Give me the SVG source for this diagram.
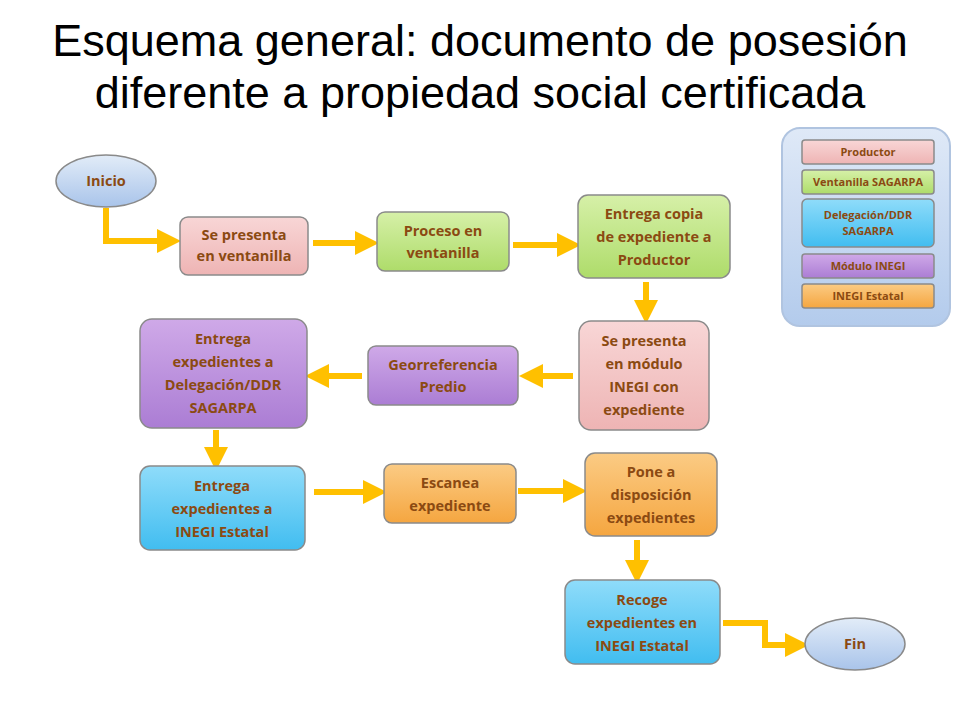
<svg xmlns="http://www.w3.org/2000/svg" width="960" height="720" viewBox="0 0 960 720">
<defs>
<linearGradient id="gp" x1="0" y1="0" x2="0" y2="1"><stop offset="0" stop-color="#f8d6d6"/><stop offset="1" stop-color="#eeb4b4"/></linearGradient>
<linearGradient id="gg" x1="0" y1="0" x2="0" y2="1"><stop offset="0" stop-color="#d6f0a8"/><stop offset="1" stop-color="#aedc6a"/></linearGradient>
<linearGradient id="gb" x1="0" y1="0" x2="0" y2="1"><stop offset="0" stop-color="#8fdcfa"/><stop offset="1" stop-color="#41bdf0"/></linearGradient>
<linearGradient id="gv" x1="0" y1="0" x2="0" y2="1"><stop offset="0" stop-color="#cfa9e8"/><stop offset="1" stop-color="#ab7dd4"/></linearGradient>
<linearGradient id="go" x1="0" y1="0" x2="0" y2="1"><stop offset="0" stop-color="#fbcb84"/><stop offset="1" stop-color="#f5a640"/></linearGradient>
<linearGradient id="ge" x1="0" y1="0" x2="0" y2="1"><stop offset="0" stop-color="#e2ecf8"/><stop offset="1" stop-color="#a9c4ea"/></linearGradient>
<linearGradient id="gl" x1="0" y1="0" x2="0" y2="1"><stop offset="0" stop-color="#dfe9f7"/><stop offset="1" stop-color="#b3cbec"/></linearGradient>
<marker id="ah" markerWidth="4" markerHeight="4" refX="1.5" refY="2" orient="auto" markerUnits="strokeWidth"><path d="M0,0 L4,2 L0,4 Z" fill="#ffc000"/></marker>
<style>
.n{stroke:#8a8a8a;stroke-width:1.5}
.t{font-family:"Open Sans","Liberation Sans",sans-serif;font-weight:bold;font-size:14.5px;fill:#8b4a12;text-anchor:middle}
.s{font-family:"Open Sans","Liberation Sans",sans-serif;font-weight:bold;font-size:11px;fill:#8b4a12;text-anchor:middle}
.c{fill:none;stroke:#ffc000;stroke-width:6;marker-end:url(#ah)}
.h{font-family:"Liberation Sans",Arial,sans-serif;font-size:45px;fill:#000;text-anchor:middle}
</style>
</defs>
<rect width="960" height="720" fill="#fff"/>
<text class="h" x="480" y="56">Esquema general: documento de posesión</text>
<text class="h" x="480" y="108">diferente a propiedad social certificada</text>

<g id="legend">
<rect x="782" y="128" width="168" height="198" rx="18" fill="url(#gl)" stroke="#b0c4e0" stroke-width="2"/>
<rect class="n" x="802" y="140" width="132" height="24" rx="3" fill="url(#gp)"/><text class="s" x="868" y="156">Productor</text>
<rect class="n" x="802" y="170" width="132" height="24" rx="3" fill="url(#gg)"/><text class="s" x="868" y="186">Ventanilla SAGARPA</text>
<rect class="n" x="802" y="199" width="132" height="48" rx="5" fill="url(#gb)"/><text class="s" x="868" y="219">Delegación/DDR</text><text class="s" x="868" y="235">SAGARPA</text>
<rect class="n" x="802" y="254" width="132" height="24" rx="3" fill="url(#gv)"/><text class="s" x="868" y="270">Módulo INEGI</text>
<rect class="n" x="802" y="284" width="132" height="24" rx="3" fill="url(#go)"/><text class="s" x="868" y="300">INEGI Estatal</text>
</g>

<g id="connectors">
<path class="c" d="M106,208 V241 H166"/>
<path class="c" d="M313,243 H364"/>
<path class="c" d="M513,245 H566"/>
<path class="c" d="M646,282 V309"/>
<path class="c" d="M573,376 H534"/>
<path class="c" d="M362,376 H320"/>
<path class="c" d="M216,430 V456"/>
<path class="c" d="M314,492 H372"/>
<path class="c" d="M518,491 H572"/>
<path class="c" d="M637,540 V569"/>
<path class="c" d="M723,623 H765 V645 H794"/>
</g>

<g id="inicio"><ellipse class="n" cx="106" cy="181" rx="50" ry="26" fill="url(#ge)"/><text class="t" x="106" y="186">Inicio</text></g>
<g id="n1"><rect class="n" x="180" y="217" width="128" height="58" rx="8" fill="url(#gp)"/><text class="t" x="244" y="240">Se presenta</text><text class="t" x="244" y="261">en ventanilla</text></g>
<g id="n2"><rect class="n" x="377" y="212" width="132" height="59" rx="8" fill="url(#gg)"/><text class="t" x="443" y="236">Proceso en</text><text class="t" x="443" y="258">ventanilla</text></g>
<g id="n3"><rect class="n" x="578" y="195" width="152" height="83" rx="10" fill="url(#gg)"/><text class="t" x="654" y="219">Entrega copia</text><text class="t" x="654" y="242">de expediente a</text><text class="t" x="654" y="265">Productor</text></g>
<g id="n4"><rect class="n" x="579" y="321" width="130" height="109" rx="12" fill="url(#gp)"/><text class="t" x="644" y="346">Se presenta</text><text class="t" x="644" y="369">en módulo</text><text class="t" x="644" y="392">INEGI con</text><text class="t" x="644" y="415">expediente</text></g>
<g id="n5"><rect class="n" x="368" y="346" width="150" height="59" rx="8" fill="url(#gv)"/><text class="t" x="443" y="370">Georreferencia</text><text class="t" x="443" y="392">Predio</text></g>
<g id="n6"><rect class="n" x="140" y="319" width="167" height="109" rx="12" fill="url(#gv)"/><text class="t" x="223" y="344">Entrega</text><text class="t" x="223" y="367">expedientes a</text><text class="t" x="223" y="390">Delegación/DDR</text><text class="t" x="223" y="413">SAGARPA</text></g>
<g id="n7"><rect class="n" x="140" y="466" width="165" height="84" rx="10" fill="url(#gb)"/><text class="t" x="222" y="491">Entrega</text><text class="t" x="222" y="514">expedientes a</text><text class="t" x="222" y="537">INEGI Estatal</text></g>
<g id="n8"><rect class="n" x="384" y="464" width="132" height="59" rx="8" fill="url(#go)"/><text class="t" x="450" y="488">Escanea</text><text class="t" x="450" y="511">expediente</text></g>
<g id="n9"><rect class="n" x="585" y="453" width="132" height="83" rx="10" fill="url(#go)"/><text class="t" x="651" y="477">Pone a</text><text class="t" x="651" y="500">disposición</text><text class="t" x="651" y="523">expedientes</text></g>
<g id="n10"><rect class="n" x="565" y="580" width="155" height="84" rx="10" fill="url(#gb)"/><text class="t" x="642" y="605">Recoge</text><text class="t" x="642" y="628">expedientes en</text><text class="t" x="642" y="651">INEGI Estatal</text></g>
<g id="fin"><ellipse class="n" cx="855" cy="644" rx="50" ry="26" fill="url(#ge)"/><text class="t" x="855" y="649">Fin</text></g>
</svg>
